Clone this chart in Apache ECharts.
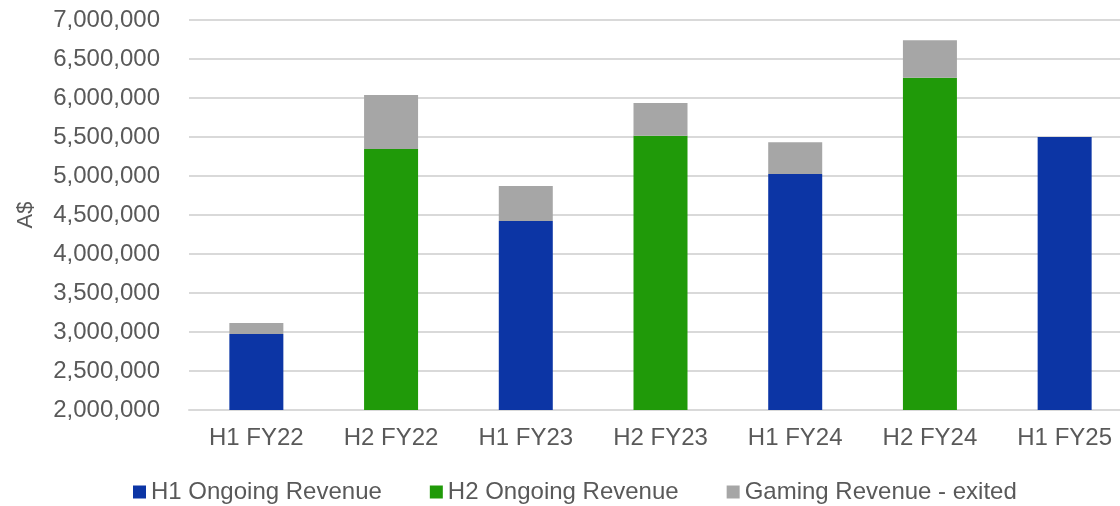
<!DOCTYPE html>
<html>
<head>
<meta charset="utf-8">
<script src="https://cdn.jsdelivr.net/npm/echarts@6/dist/echarts.min.js"></script>
<style>
  html, body { margin: 0; padding: 0; background: #fff; }
  #main { width: 1120px; height: 506px; }
</style>
</head>
<body>
<div id="main"></div>
<script>
// periods on the x axis
const categories = ['H1 FY22', 'H2 FY22', 'H1 FY23', 'H2 FY23', 'H1 FY24', 'H2 FY24', 'H1 FY25']
// ongoing revenue, first half / second half (0 where the period is the other half)
const h1Revenue = [2974000, 0, 4423000, 0, 5026000, 0, 5500000]
const h2Revenue = [0, 5346000, 0, 5517000, 0, 6260000, 0]
// gaming revenue stacked on top
const gamingRevenue = [141000, 692000, 449000, 419000, 406000, 480000, 0]

const textColor = '#595959'
const chart = echarts.init(document.getElementById('main'))

const option = {
  animation: false,
  textStyle: { fontFamily: 'Liberation Sans, Arial, sans-serif' },
  grid: { left: 189, top: 20, width: 943, bottom: 96, containLabel: false, outerBoundsMode: 'none' },
  legend: {
    top: 480,
    left: 133,
    padding: 0,
    itemWidth: 13,
    itemHeight: 13,
    itemGap: 48,
    icon: 'rect',
    textStyle: { color: textColor, fontSize: 24 },
    data: ['H1 Ongoing Revenue', 'H2 Ongoing Revenue', 'Gaming Revenue - exited']
  },
  xAxis: {
    type: 'category',
    data: categories,
    axisLine: { lineStyle: { color: '#d9d9d9', width: 2 } },
    axisTick: { show: false },
    axisLabel: { color: textColor, fontSize: 24, margin: 16 }
  },
  yAxis: {
    type: 'value',
    min: 2000000,
    max: 7000000,
    interval: 500000,
    name: 'A$',
    nameLocation: 'middle',
    nameGap: 152,
    nameRotate: 90,
    nameTextStyle: { color: textColor, fontSize: 22 },
    axisLine: { show: false },
    axisTick: { show: false },
    axisLabel: {
      color: textColor,
      fontSize: 24,
      margin: 29,
      formatter: v => v.toLocaleString('en-US')
    },
    splitLine: { lineStyle: { color: '#d9d9d9', width: 2 } }
  },
  series: [
    {
      name: 'H1 Ongoing Revenue',
      type: 'bar',
      stack: 'rev',
      barWidth: 54,
      itemStyle: { color: '#0c35a5' },
      data: h1Revenue
    },
    {
      name: 'H2 Ongoing Revenue',
      type: 'bar',
      stack: 'rev',
      barWidth: 54,
      itemStyle: { color: '#209a09' },
      data: h2Revenue
    },
    {
      name: 'Gaming Revenue - exited',
      type: 'bar',
      stack: 'rev',
      barWidth: 54,
      itemStyle: { color: '#a6a6a6' },
      data: gamingRevenue
    }
  ]
}

chart.setOption(option)
</script>
</body>
</html>
